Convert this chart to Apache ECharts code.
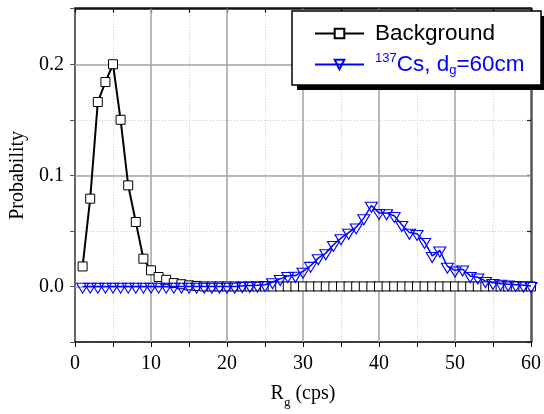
<!DOCTYPE html>
<html>
<head>
<meta charset="utf-8">
<script src="https://cdn.jsdelivr.net/npm/echarts@6/dist/echarts.min.js"></script>
<style>
  html, body { margin: 0; padding: 0; background: #fff; }
  #chart { width: 544px; height: 414px; }
</style>
</head>
<body>
<div id="chart"></div>
<script>
// Count rate R_g (cps) at which each probability was evaluated
const rateCps = [
  1, 2, 3, 4, 5, 6, 7, 8, 9, 10,
  11, 12, 13, 14, 15, 16, 17, 18, 19, 20,
  21, 22, 23, 24, 25, 26, 27, 28, 29, 30,
  31, 32, 33, 34, 35, 36, 37, 38, 39, 40,
  41, 42, 43, 44, 45, 46, 47, 48, 49, 50,
  51, 52, 53, 54, 55, 56, 57, 58, 59, 60
];

// Background count-rate distribution
const backgroundProb = [
  0.018, 0.079, 0.166, 0.184, 0.200, 0.150, 0.091, 0.058, 0.025, 0.0145,
  0.0085, 0.006, 0.003, 0.002, 0.001, 0.0005, 0, 0, 0, 0,
  0, 0, 0, 0, 0, 0, 0, 0, 0, 0,
  0, 0, 0, 0, 0, 0, 0, 0, 0, 0,
  0, 0, 0, 0, 0, 0, 0, 0, 0, 0,
  0, 0, 0, 0, 0, 0, 0, 0, 0, 0
];

// 137Cs source at d_g = 60 cm
const cesiumProb = [
  0, 0, 0, 0, 0, 0, 0, 0, 0, 0,
  0, 0, 0, 0, 0, 0, 0, 0, 0, 0,
  0, 0.0005, 0.0008, 0.001, 0.0015, 0.004, 0.0068, 0.0095, 0.0098, 0.0135,
  0.0187, 0.0255, 0.030, 0.0375, 0.0435, 0.0485, 0.0533, 0.0615, 0.0728, 0.0662,
  0.066, 0.0637, 0.0555, 0.0485, 0.0475, 0.0402, 0.0275, 0.0325, 0.018, 0.0145,
  0.0155, 0.0095, 0.0083, 0.005, 0.0033, 0.0025, 0.002, 0.0015, 0.001, 0.0005
];

// Axis ranges and solid (major) grid positions
const xRange = [0, 60];
const yRange = [-0.05, 0.25];
const xMajorGrid = [10, 20, 30, 40, 50];
const yMajorGrid = [0, 0.1, 0.2];

const pairs = (xs, ys) => xs.map((x, i) => [x, ys[i]]);

const serifFont = 'Liberation Serif, Times New Roman, serif';
const sansFont = 'Liberation Sans, Arial, sans-serif';

const chart = echarts.init(document.getElementById('chart'), null, { renderer: 'canvas' });

const majorGridLines = xMajorGrid.map(v => ({ xAxis: v }))
  .concat(yMajorGrid.map(v => ({ yAxis: v })));

// Legend frame with a solid drop shadow
const legendBox = { x: 292, y: 11, width: 249, height: 74, shadow: 5 };

chart.setOption({
  animation: false,
  backgroundColor: '#fff',
  grid: { left: 75, right: 11.3, top: 8.7, bottom: 67.4 },
  graphic: [
    {
      type: 'rect', silent: true, z: 10,
      shape: {
        x: legendBox.x + legendBox.shadow, y: legendBox.y + legendBox.shadow,
        width: legendBox.width, height: legendBox.height
      },
      style: { fill: '#000' }
    },
    {
      type: 'rect', silent: true, z: 11,
      shape: { x: legendBox.x, y: legendBox.y, width: legendBox.width, height: legendBox.height },
      style: { fill: '#fff', stroke: '#000', lineWidth: 1.5 }
    }
  ],
  legend: {
    orient: 'vertical',
    left: legendBox.x,
    top: legendBox.y,
    z: 20,
    padding: [10, 10, 8, 22],
    itemGap: 6,
    itemWidth: 49,
    itemHeight: 12,
    textStyle: {
      fontFamily: sansFont,
      fontSize: 22.5,
      lineHeight: 25,
      color: '#000',
      padding: [0, 0, 0, 6],
      rich: {
        sup: { fontSize: 13, lineHeight: 25, verticalAlign: 'top' },
        sub: { fontSize: 13, lineHeight: 25, verticalAlign: 'bottom' }
      }
    },
    data: [
      { name: 'Background' },
      { name: 'Cs-137', textStyle: { color: '#0000ff' } }
    ],
    formatter: name => name === 'Background'
      ? 'Background'
      : '{sup|137}Cs, d{sub|g}=60cm'
  },
  xAxis: [
    {
      type: 'value',
      position: 'bottom',
      min: xRange[0], max: xRange[1], interval: 5,
      name: 'R{sub|g} (cps)',
      nameLocation: 'middle',
      nameGap: 37,
      nameTextStyle: {
        fontFamily: serifFont, fontSize: 20, color: '#000',
        rich: { sub: { fontFamily: serifFont, fontSize: 13, verticalAlign: 'bottom', lineHeight: 30 } }
      },
      axisLine: { onZero: false, lineStyle: { color: '#000', width: 1.5 } },
      axisTick: { inside: false, length: 5, lineStyle: { color: '#000', width: 1 } },
      axisLabel: {
        margin: 12, fontFamily: serifFont, fontSize: 20, color: '#000',
        formatter: v => (Math.round(v) % 10 === 0 ? String(Math.round(v)) : '')
      },
      splitLine: { show: true, lineStyle: { color: '#c8c8c8', width: 1, type: [1, 2] } }
    },
    {
      type: 'value',
      position: 'top',
      min: xRange[0], max: xRange[1], interval: 5,
      axisLine: { onZero: false, lineStyle: { color: '#111', width: 2.5 } },
      axisTick: { inside: true, length: 4, lineStyle: { color: '#111', width: 1.2 } },
      axisLabel: { show: false },
      splitLine: { show: false }
    }
  ],
  yAxis: [
    {
      type: 'value',
      position: 'left',
      min: yRange[0], max: yRange[1], interval: 0.05,
      name: 'Probability',
      nameLocation: 'middle',
      nameGap: 44,
      nameTextStyle: { fontFamily: serifFont, fontSize: 20, color: '#000' },
      axisLine: { onZero: false, lineStyle: { color: '#666', width: 2 } },
      axisTick: { inside: false, length: 5, lineStyle: { color: '#555', width: 1 } },
      axisLabel: {
        margin: 11, fontFamily: serifFont, fontSize: 20, color: '#000',
        formatter: v => {
          const k = Math.round(v * 20);
          return Math.abs(k % 2) === 0 ? (k / 20).toFixed(1) : '';
        }
      },
      splitLine: { show: true, lineStyle: { color: '#c8c8c8', width: 1, type: [1, 2] } }
    },
    {
      type: 'value',
      position: 'right',
      min: yRange[0], max: yRange[1], interval: 0.05,
      axisLine: { onZero: false, lineStyle: { color: '#555', width: 2.5 } },
      axisTick: { inside: true, length: 4, lineStyle: { color: '#222', width: 1.2 } },
      axisLabel: { show: false },
      splitLine: { show: false }
    }
  ],
  series: [
    {
      // carries the solid grid lines at the major tick values
      name: 'grid-major',
      type: 'line',
      data: pairs(rateCps, backgroundProb),
      showSymbol: false,
      symbol: 'none',
      lineStyle: { opacity: 0 },
      silent: true,
      z: 1,
      markLine: {
        silent: true,
        z: 1,
        symbol: 'none',
        label: { show: false },
        lineStyle: { color: '#a6a6a6', width: 1.5, type: 'solid' },
        emphasis: { disabled: true },
        data: majorGridLines
      }
    },
    {
      name: 'Background',
      type: 'line',
      data: pairs(rateCps, backgroundProb),
      symbol: 'rect',
      symbolSize: 9,
      showAllSymbol: true,
      lineStyle: { color: '#000', width: 2 },
      itemStyle: { color: '#fff', borderColor: '#000', borderWidth: 1 },
      z: 3
    },
    {
      name: 'Cs-137',
      type: 'line',
      data: pairs(rateCps, cesiumProb),
      symbol: 'triangle',
      symbolRotate: 180,
      symbolSize: [12, 10],
      symbolOffset: [0, 1.7],
      showAllSymbol: true,
      lineStyle: { color: '#0000ff', width: 1.5 },
      itemStyle: { color: 'rgba(255,255,255,0)', borderColor: '#0000ff', borderWidth: 1.1 },
      z: 4
    }
  ]
});
</script>
</body>
</html>
